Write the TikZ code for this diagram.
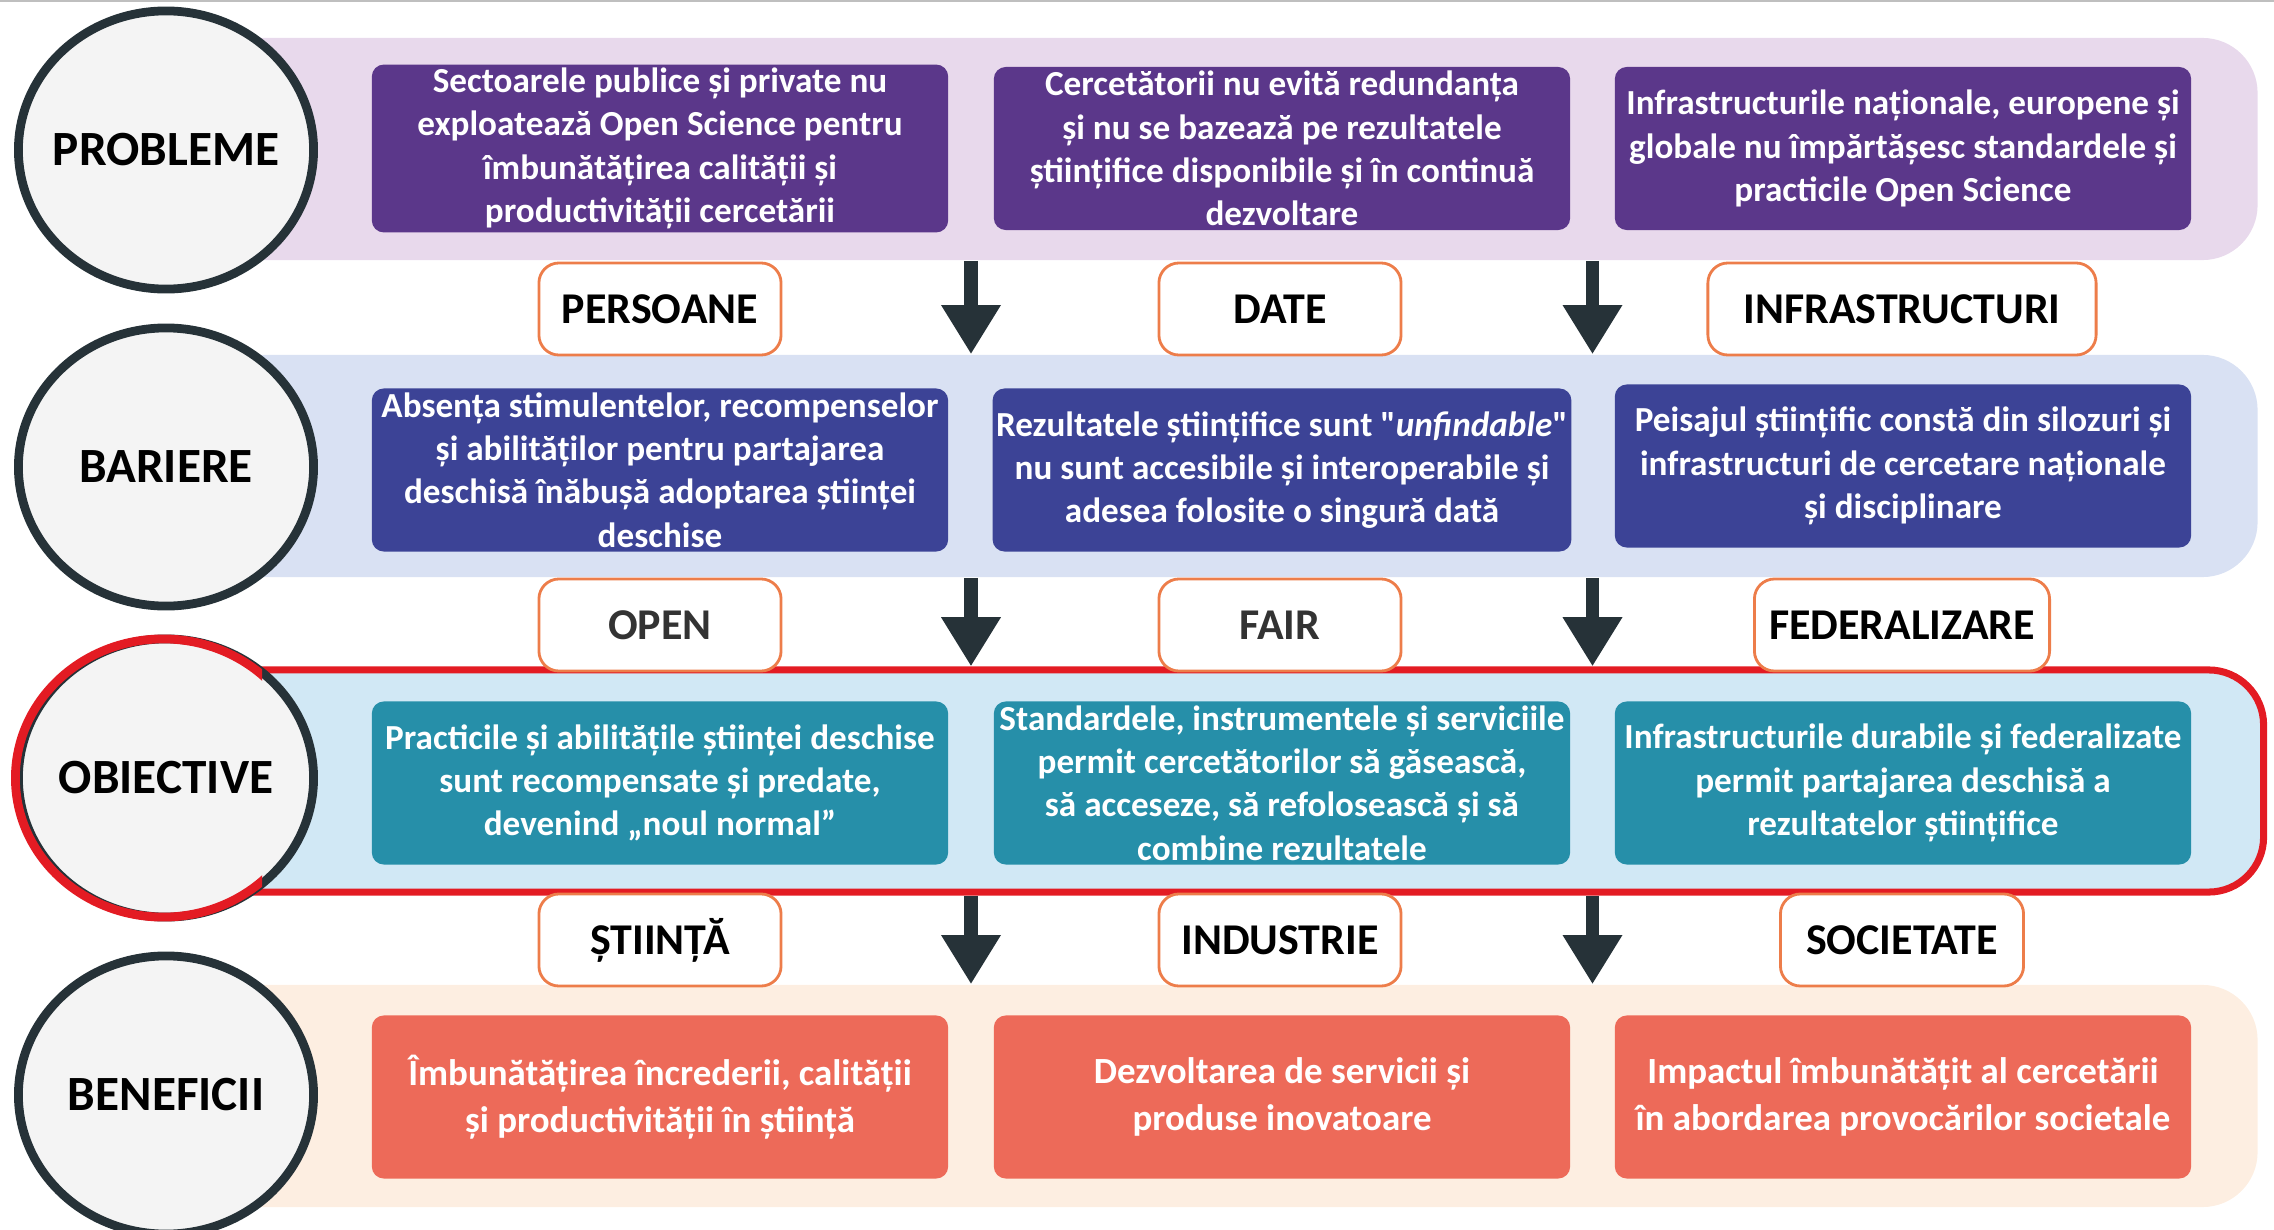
\documentclass[tikz,border=0pt]{standalone}
\usepackage{fontspec}
\setmainfont{Carlito}
\usetikzlibrary{positioning,calc,arrows.meta,shapes.geometric}

\definecolor{darkline}{HTML}{263238}
\definecolor{stagefill}{HTML}{F4F4F4}
\definecolor{tagorange}{HTML}{ED7D4A}
\definecolor{objred}{HTML}{E31B23}
\definecolor{probbg}{HTML}{E8D9EC}
\definecolor{probfg}{HTML}{5B378A}
\definecolor{barbg}{HTML}{D9E1F3}
\definecolor{barfg}{HTML}{3C4396}
\definecolor{objbg}{HTML}{D1E8F5}
\definecolor{objfg}{HTML}{268FA9}
\definecolor{benbg}{HTML}{FDEEE1}
\definecolor{benfg}{HTML}{ED6A59}

\tikzset{
  band/.style={rectangle,rounded corners=0.55cm,minimum width=20.91cm,minimum height=2.22cm,inner sep=0pt},
  tile/.style={rectangle,rounded corners=0.12cm,minimum width=5.76cm,minimum height=1.63cm,inner sep=1pt,text=white,align=center,font=\fontsize{10}{12.3}\selectfont\bfseries},
  tag/.style={rectangle,rounded corners=0.2cm,draw=tagorange,line width=0.8pt,fill=white,minimum height=0.92cm,minimum width=2.42cm,font=\fontsize{12.5}{15}\selectfont\bfseries},
  stage/.style={ellipse,draw=darkline,line width=2.5pt,fill=stagefill,minimum width=2.95cm,minimum height=2.78cm,inner xsep=-5pt,inner ysep=0pt,font=\fontsize{14}{16}\selectfont\bfseries},
  flow/.style={draw=darkline,line width=3.7pt,-{Triangle[width=16pt,length=14pt]}}
}

\begin{document}
\begin{tikzpicture}[x=0.01cm,y=-0.01cm]
        \useasboundingbox (0,0) rectangle (2274,1230);
        \draw[gray!50,line width=0.5pt] (0,1) -- (2274,1);

        \node[band,fill=probbg] (probband) at (1211.5,149) {};
        \node[band,fill=barbg] (barband) at (1211.5,466) {};
        \node[band,fill=objbg,draw=objred,line width=2pt,minimum width=20.97cm] (objband) at (1214.5,781) {};
        \node[band,fill=benbg] (benband) at (1211.5,1096) {};

        \node[stage] (probstage) at (166,150) {PROBLEME};
        \node[stage] (barstage) at (166,467) {BARIERE};
        \node[stage] (objstage) at (166,778) {OBIECTIVE};
        \node[stage] (benstage) at (166,1095) {BENEFICII};
        \begin{scope}
            \clip (0,600) rectangle (262,960);
            \node[ellipse,draw=objred,line width=2.5pt,minimum width=2.95cm,minimum height=2.78cm] (objring) at ($(objstage.center)+(-3,0)$) {};
        \end{scope}

        \node[tile,fill=probfg] (prob1) at (660,148.5) {Sectoarele publice și private nu\\exploatează Open Science pentru\\îmbunătățirea calității și\\productivității cercetării};
        \node[tile,fill=probfg] (prob2) at (1282,148.5) {Cercetătorii nu evită redundanța\\și nu se bazează pe rezultatele\\științifice disponibile și în continuă\\dezvoltare};
        \node[tile,fill=probfg] (prob3) at (1903,148.5) {Infrastructurile naționale, europene și\\globale nu împărtășesc standardele și\\practicile Open Science};

        \node[tile,fill=barfg] (bar1) at (660,470) {Absența stimulentelor, recompenselor\\și abilităților pentru partajarea\\deschisă înăbușă adoptarea științei\\deschise};
        \node[tile,fill=barfg] (bar2) at (1282,470) {Rezultatele științifice sunt \textquotedbl\textit{unfindable}\textquotedbl\\nu sunt accesibile și interoperabile și\\adesea folosite o singură dată};
        \node[tile,fill=barfg] (bar3) at (1903,466) {Peisajul științific constă din silozuri și\\infrastructuri de cercetare naționale\\și disciplinare};

        \node[tile,fill=objfg] (obj1) at (660,783) {Practicile și abilitățile științei deschise\\sunt recompensate și predate,\\devenind „noul normal”};
        \node[tile,fill=objfg] (obj2) at (1282,783) {Standardele, instrumentele și serviciile\\permit cercetătorilor să găsească,\\să acceseze, să refolosească și să\\combine rezultatele};
        \node[tile,fill=objfg] (obj3) at (1903,783) {Infrastructurile durabile și federalizate\\permit partajarea deschisă a\\rezultatelor științifice};

        \node[tile,fill=benfg,font=\fontsize{10.5}{13.5}\selectfont\bfseries] (ben1) at (660,1097) {Îmbunătățirea încrederii, calității\\și productivității în știință};
        \node[tile,fill=benfg,font=\fontsize{10.5}{13.5}\selectfont\bfseries] (ben2) at (1282,1097) {Dezvoltarea de servicii și\\produse inovatoare};
        \node[tile,fill=benfg,font=\fontsize{10.5}{13.5}\selectfont\bfseries] (ben3) at (1903,1097) {Impactul îmbunătățit al cercetării\\în abordarea provocărilor societale};

        \node[tag] (persoane) at (660,309) {PERSOANE};
        \node[tag] (date) at (1280,309) {DATE};
        \node[tag,minimum width=3.88cm] (infra) at (1902,309) {INFRASTRUCTURI};
        \node[tag,text=black!80] (open) at (660,625) {OPEN};
        \node[tag,text=black!80] (fair) at (1280,625) {FAIR};
        \node[tag,minimum width=2.95cm] (feder) at (1902,625) {FEDERALIZARE};
        \node[tag] (stiinta) at (660,940) {ȘTIINȚĂ};
        \node[tag] (industrie) at (1280,940) {INDUSTRIE};
        \node[tag,minimum width=2.43cm] (societate) at (1902,940) {SOCIETATE};

        \coordinate (gapa) at ($(prob1.east)!0.5!(prob2.west)$);
        \coordinate (gapb) at ($(prob2.east)!0.5!(prob3.west)$);
        \draw[flow] (probband.south -| gapa) -- (barband.north -| gapa);
        \draw[flow] (probband.south -| gapb) -- (barband.north -| gapb);
        \draw[flow] (barband.south -| gapa) -- (objband.north -| gapa);
        \draw[flow] (barband.south -| gapb) -- (objband.north -| gapb);
        \draw[flow] (objband.south -| gapa) -- (benband.north -| gapa);
        \draw[flow] (objband.south -| gapb) -- (benband.north -| gapb);
\end{tikzpicture}
\end{document}
